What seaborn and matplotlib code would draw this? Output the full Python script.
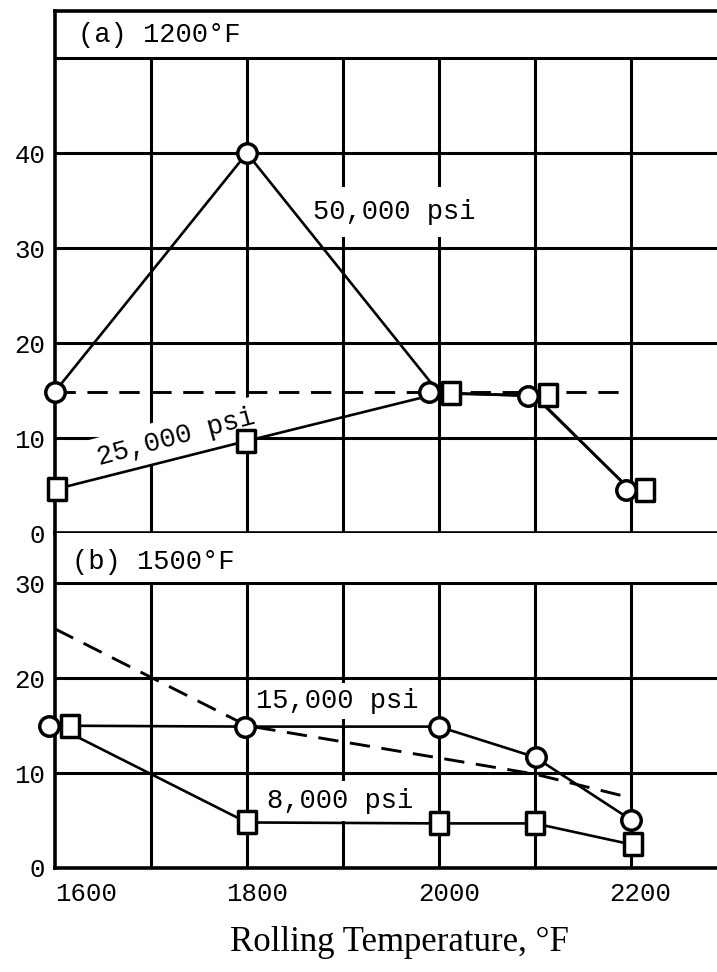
import matplotlib
matplotlib.use("Agg")
import matplotlib.pyplot as plt
import matplotlib.transforms as mtransforms
from matplotlib.path import Path
import pandas as pd
import seaborn as sns

# Rolling temperature, °F
temps = [1600, 1800, 2000, 2100, 2200]

# (a) tested at 1200°F
a_50ksi = [14.9, 40.0, 14.8, 14.4, 4.5]
a_25ksi = [4.6, 9.7, 14.7, 14.5, 4.5]
a_ref_temps = [1600, 2200]
a_ref = [14.9, 14.9]

# (b) tested at 1500°F
b_15ksi = [15.0, 14.9, 14.9, 11.7, 5.1]
b_8ksi = [15.0, 4.8, 4.7, 4.7, 2.5]
b_ref_temps = [1600, 1800, 2000, 2100, 2200]
b_ref = [25.2, 15.0, 11.6, 9.9, 7.4]

x_ticks = [1600, 1800, 2000, 2200]
x_grid = [1700, 1800, 1900, 2000, 2100, 2200]
a_yticks = [0, 10, 20, 30, 40]
b_yticks = [0, 10, 20, 30]

# small sideways nudges (pixels) so coincident symbols stay readable
a_circle_nudge = [0, 0, -10, -7, -5]
a_square_nudge = [2, -1, 12, 13, 14]
b_circle_nudge = [-6, -2, 0, 1, 0]
b_square_nudge = [15, 0, 0, 0, 2]

sns.set_theme(style="white")
plt.rcParams["font.family"] = ["Liberation Mono", "DejaVu Sans"]
plt.rcParams["axes.unicode_minus"] = False

INK = "black"
GRID_LW = 2.2
DATA_LW = 1.9
SPINE_LW = 2.6
TICK_FS = 18.5
NOTE_FS = 19.5

tall_square = Path([(-0.42, -0.5), (0.42, -0.5), (0.42, 0.5), (-0.42, 0.5), (-0.42, -0.5)],
                   [Path.MOVETO, Path.LINETO, Path.LINETO, Path.LINETO, Path.CLOSEPOLY])

fig = plt.figure(figsize=(7.17, 9.72), dpi=100)
left = 55 / 717
ax1 = fig.add_axes([left, 0.4516, 1 - left, 0.989 - 0.4516])
ax2 = fig.add_axes([left, 0.107, 1 - left, 0.4516 - 0.107])

XLIM = (1600, 2290)


def frame(ax, ymax_grid, ylim, yticks):
    ax.set_xlim(*XLIM)
    ax.set_ylim(*ylim)
    ax.grid(False)
    # grid lines; verticals stop at the caption band
    for yv in range(10, ymax_grid + 1, 10):
        ax.axhline(yv, color=INK, lw=GRID_LW, zorder=1)
    ax.vlines(x_grid, 0, ymax_grid, color=INK, lw=GRID_LW, zorder=1)
    ax.set_yticks(yticks)
    ax.set_yticklabels([str(t) for t in yticks])
    ax.tick_params(axis="both", length=0, labelsize=TICK_FS, colors=INK)
    ax.tick_params(axis="y", pad=7)
    ax.tick_params(axis="x", pad=10)
    ax.spines["right"].set_visible(False)
    for side in ("left", "bottom", "top"):
        ax.spines[side].set_color(INK)
        ax.spines[side].set_linewidth(SPINE_LW)


def markers(ax, xs, ys, nudges, marker, ms):
    for xv, yv, dx in zip(xs, ys, nudges):
        tr = ax.transData + mtransforms.ScaledTranslation(dx / fig.dpi, 0, fig.dpi_scale_trans)
        ax.plot([xv], [yv], linestyle="none", marker=marker, ms=ms, mfc="white",
                mec=INK, mew=2.5, transform=tr, zorder=4, clip_on=False)


def series(ax, xs, ys, **kw):
    df = pd.DataFrame({"temp": xs, "val": ys})
    sns.lineplot(data=df, x="temp", y="val", ax=ax, color=INK, sort=False,
                 estimator=None, zorder=3, **kw)


def note(ax, x, y, s, pad, rot=0):
    ax.text(x, y, s, fontsize=NOTE_FS, ha="center", va="center", rotation=rot,
            rotation_mode="anchor", color=INK, zorder=2,
            bbox=dict(boxstyle=f"square,pad={pad}", fc="white", ec="none"))


# ---- (a) 1200°F ----
frame(ax1, 50, (0, 55), a_yticks)
series(ax1, a_ref_temps, a_ref, lw=DATA_LW * 1.1, linestyle=(0, (7, 4)))
series(ax1, temps, a_50ksi, lw=DATA_LW)
series(ax1, temps, a_25ksi, lw=DATA_LW)
markers(ax1, temps, a_50ksi, a_circle_nudge, "o", 14)
markers(ax1, temps, a_25ksi, a_square_nudge, tall_square, 15.5)
note(ax1, 1954, 33.8, "50,000 psi", 0.45)
note(ax1, 1726, 10.1, "25,000 psi", 0.25, rot=15)
ax1.text(1624, 52.4, "(a) 1200°F", fontsize=NOTE_FS, ha="left", va="center", color=INK)
ax1.set_xticks([])
ax1.set_xlabel("")
ax1.set_ylabel("")

# ---- (b) 1500°F ----
frame(ax2, 30, (0, 35.3), b_yticks)
ax2.spines["top"].set_visible(False)
series(ax2, b_ref_temps, b_ref, lw=DATA_LW * 1.1, linestyle=(0, (7, 4)))
series(ax2, temps, b_15ksi, lw=DATA_LW)
series(ax2, temps, b_8ksi, lw=DATA_LW)
markers(ax2, temps, b_15ksi, b_circle_nudge, "o", 14)
markers(ax2, temps, b_8ksi, b_square_nudge, tall_square, 15.5)
note(ax2, 1894, 17.6, "15,000 psi", 0.2)
note(ax2, 1897, 7.05, "8,000 psi", 0.25)
ax2.text(1618, 32.3, "(b) 1500°F", fontsize=NOTE_FS, ha="left", va="center", color=INK)
ax2.set_ylabel("")

ax2.set_xticks(x_ticks)
ax2.set_xticklabels([str(t) for t in x_ticks])
for i, lab in enumerate(ax2.get_xticklabels()):
    if i == 0:
        lab.set_ha("left")
    else:
        lab.set_transform(lab.get_transform()
                          + mtransforms.ScaledTranslation(10 / fig.dpi, 0, fig.dpi_scale_trans))

ax2.set_xlabel("Rolling Temperature, °F", family=["Liberation Serif", "DejaVu Serif"],
               fontsize=25, color=INK)
ax2.xaxis.set_label_coords(0.521, -0.221)
ax2.xaxis.label.set_va("center")

fig.savefig("out.png", dpi=100, facecolor="white")
